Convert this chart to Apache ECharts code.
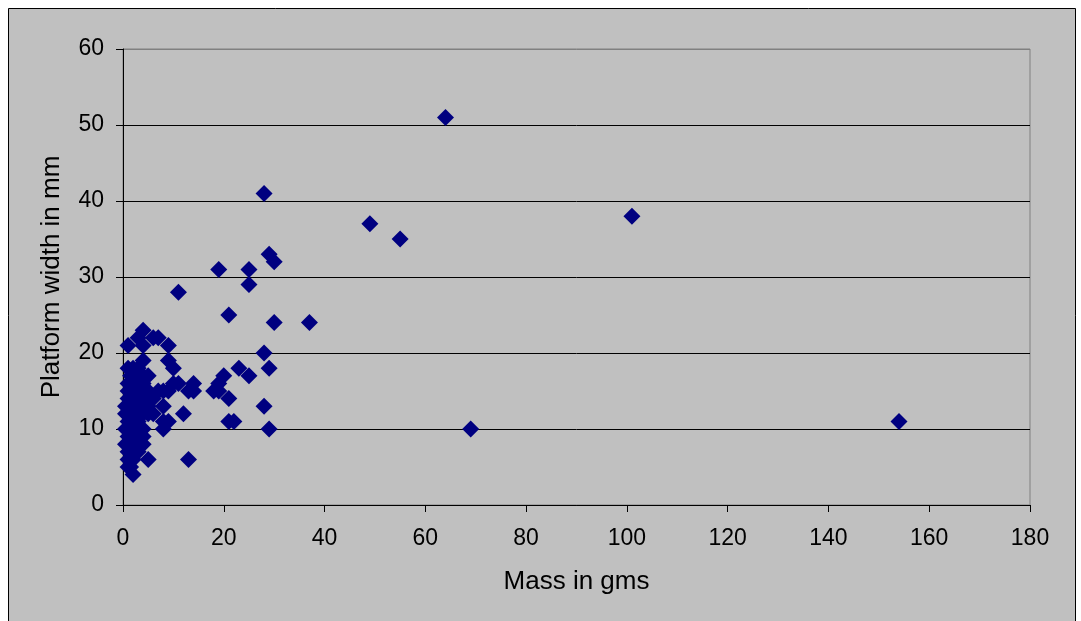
<!DOCTYPE html>
<html>
<head>
<meta charset="utf-8">
<script src="https://cdn.jsdelivr.net/npm/echarts@6/dist/echarts.min.js"></script>
<style>
  html, body { margin: 0; padding: 0; background: #ffffff; }
  #chart { width: 1081px; height: 621px; }
</style>
</head>
<body>
<div id="chart"></div>
<script>
// Mass (g) and platform width (mm), one entry per specimen
const massGms = [
  64, 28, 49, 101, 55, 29, 30, 19, 25, 25, 11, 21, 30, 37, 28, 29, 23, 25, 20, 19,
  18, 19, 21, 14, 14, 13, 12, 28, 21, 22, 29, 13, 69, 154,
  0.5, 0.5, 0.5, 0.5,
  1, 1, 1, 1, 1, 1, 1, 1, 1, 1, 1, 1, 1, 1,
  1.5, 1.5, 1.5, 1.5, 1.5, 1.5,
  2, 2, 2, 2, 2, 2, 2, 2, 2, 2, 2, 2, 2, 2,
  3, 3, 3, 3, 3, 3, 3, 3, 3, 3, 3, 3, 3,
  4, 4, 4, 4, 4, 4, 4, 4, 4, 4, 4,
  5, 5, 5, 5, 5,
  6, 6, 6,
  7, 7,
  8, 8, 8, 8,
  9, 9, 9, 9,
  10, 10, 11
];
const widthMm = [
  51, 41, 37, 38, 35, 33, 32, 31, 31, 29, 28, 25, 24, 24, 20, 18, 18, 17, 17, 16,
  15, 15, 14, 16, 15, 15, 12, 13, 11, 11, 10, 6, 10, 11,
  8, 10, 12, 13,
  5, 6, 7, 8, 9, 10, 11, 12, 13, 14, 15, 16, 18, 21,
  5, 7, 9, 11, 14, 17,
  4, 6, 7, 8, 9, 10, 11, 12, 13, 14, 15, 16, 17, 18,
  7, 8, 9, 10, 11, 12, 13, 14, 15, 16, 17, 18, 22,
  8, 9, 10, 12, 13, 14, 16, 17, 19, 21, 23,
  6, 12, 13, 15, 17,
  12, 14, 22,
  15, 22,
  10, 11, 13, 15,
  11, 15, 19, 21,
  16, 18, 16
];

const xAxisRange = { min: 0, max: 180, step: 20 };
const yAxisRange = { min: 0, max: 60, step: 10 };

const points = massGms.map((m, i) => [m, widthMm[i]]);

const chart = echarts.init(document.getElementById('chart'), null, { renderer: 'canvas' });
const labelFont = 'Liberation Sans, Arial, sans-serif';

chart.setOption({
  backgroundColor: '#ffffff',
  animation: false,
  graphic: [{
    type: 'rect',
    z: -10,
    silent: true,
    shape: { x: 8.5, y: 8.5, width: 1067, height: 640 },
    style: { fill: '#c0c0c0', stroke: '#000000', lineWidth: 1 }
  }],
  grid: {
    left: 123, right: 51, top: 49, bottom: 116,
    show: true,
    backgroundColor: '#c0c0c0',
    borderColor: '#808080',
    borderWidth: 1
  },
  xAxis: {
    type: 'value',
    min: xAxisRange.min, max: xAxisRange.max, interval: xAxisRange.step,
    name: 'Mass in gms',
    nameLocation: 'middle',
    nameGap: 64,
    nameTextStyle: { fontFamily: labelFont, fontSize: 26, color: '#000' },
    axisLine: { show: true, onZero: false, lineStyle: { color: '#000', width: 1 } },
    axisTick: { show: true, inside: false, length: 7, lineStyle: { color: '#000' } },
    axisLabel: { fontFamily: labelFont, fontSize: 23, color: '#000', margin: 22 },
    splitLine: { show: false }
  },
  yAxis: {
    type: 'value',
    min: yAxisRange.min, max: yAxisRange.max, interval: yAxisRange.step,
    name: 'Platform width in mm',
    nameLocation: 'middle',
    nameGap: 58,
    nameTextStyle: { fontFamily: labelFont, fontSize: 26, color: '#000' },
    axisLine: { show: true, onZero: false, lineStyle: { color: '#000', width: 1 } },
    axisTick: { show: true, inside: false, length: 7, lineStyle: { color: '#000' } },
    axisLabel: { fontFamily: labelFont, fontSize: 23, color: '#000', margin: 19 },
    splitLine: {
      show: true,
      lineStyle: { color: ['#000', '#000', '#000', '#000', '#000', '#000', '#808080'], width: 1 }
    }
  },
  series: [{
    type: 'scatter',
    data: points,
    symbol: 'diamond',
    symbolSize: 17,
    itemStyle: { color: '#000080', opacity: 1 }
  }]
});
</script>
</body>
</html>
